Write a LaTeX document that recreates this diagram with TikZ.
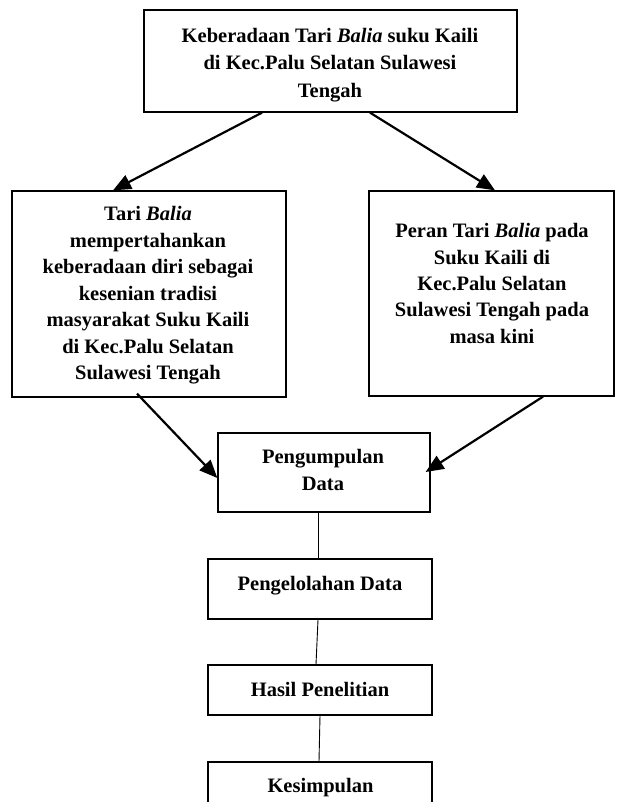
\documentclass[tikz,border=0pt]{standalone}
\usepackage{fontspec}
\setmainfont{Liberation Serif}
\usetikzlibrary{arrows.meta}
\begin{document}
\begin{tikzpicture}[x=1pt,y=-1pt,
  box/.style={draw,line width=1.3pt,inner sep=0pt},
  lbl/.style={font=\fontsize{20.5}{#1}\selectfont\bfseries,align=center,inner sep=0pt},
  lbl/.default=26.8,
  arr/.style={line width=2.2pt,-{Triangle[length=18pt,width=15pt]}},
  link/.style={line width=0.9pt}]
\clip (0,0) rectangle (618,802);
% boxes
\node[box,minimum width=373pt,minimum height=102pt] (T) at (330.5,61) {};
\node[box,minimum width=274pt,minimum height=206pt] (L) at (149,294) {};
\node[box,minimum width=245pt,minimum height=205pt] (R) at (491.5,293.5) {};
\node[box,minimum width=212pt,minimum height=79pt] (P) at (324,472.5) {};
\node[box,minimum width=224pt,minimum height=60pt] (E) at (320,589) {};
\node[box,minimum width=224pt,minimum height=50pt] (H) at (320,690) {};
\node[box,minimum width=224pt,minimum height=70pt] (K) at (320,797) {};
% texts
\node[lbl=27.5] (tT) at (330,65) {Keberadaan Tari \textit{Balia} suku Kaili\\di Kec.Palu Selatan Sulawesi\\Tengah};
\node[lbl=26.5] (tL) at (148,295.5) {Tari \textit{Balia}\\mempertahankan\\keberadaan diri sebagai\\kesenian tradisi\\masyarakat Suku Kaili\\di Kec.Palu Selatan\\Sulawesi Tengah};
\node[lbl=26.3] (tR) at (492,283.5) {Peran Tari \textit{Balia} pada\\Suku Kaili di\\Kec.Palu Selatan\\Sulawesi Tengah pada\\masa kini};
\node[lbl=27] (tP) at (323,469.5) {Pengumpulan\\Data};
\node[lbl,anchor=base] (tE) at (320,590) {Pengelolahan Data};
\node[lbl,anchor=base] (tH) at (320,696) {Hasil Penelitian};
\node[lbl,anchor=base] (tK) at (320.5,792) {Kesimpulan};
% arrows
\draw[arr] ([xshift=-68.5pt]T.south) -- ([xshift=-36pt]L.north);
\draw[arr] ([xshift=39.5pt]T.south) -- ([xshift=3.5pt]R.north);
\draw[arr] ([xshift=-12pt,yshift=4pt]L.south) -- ([yshift=-5.5pt]P.west);
\draw[arr] ([xshift=51.5pt]R.south) -- ([xshift=-5pt,yshift=0.5pt]P.east);
% links
\draw[link] ([xshift=-6pt]P.south) -- ([xshift=-2pt]E.north);
\draw[link] ([xshift=-2pt]E.south) -- ([xshift=-4pt]H.north);
\draw[link] (H.south) -- ([xshift=-1pt]K.north);
\end{tikzpicture}
\end{document}
